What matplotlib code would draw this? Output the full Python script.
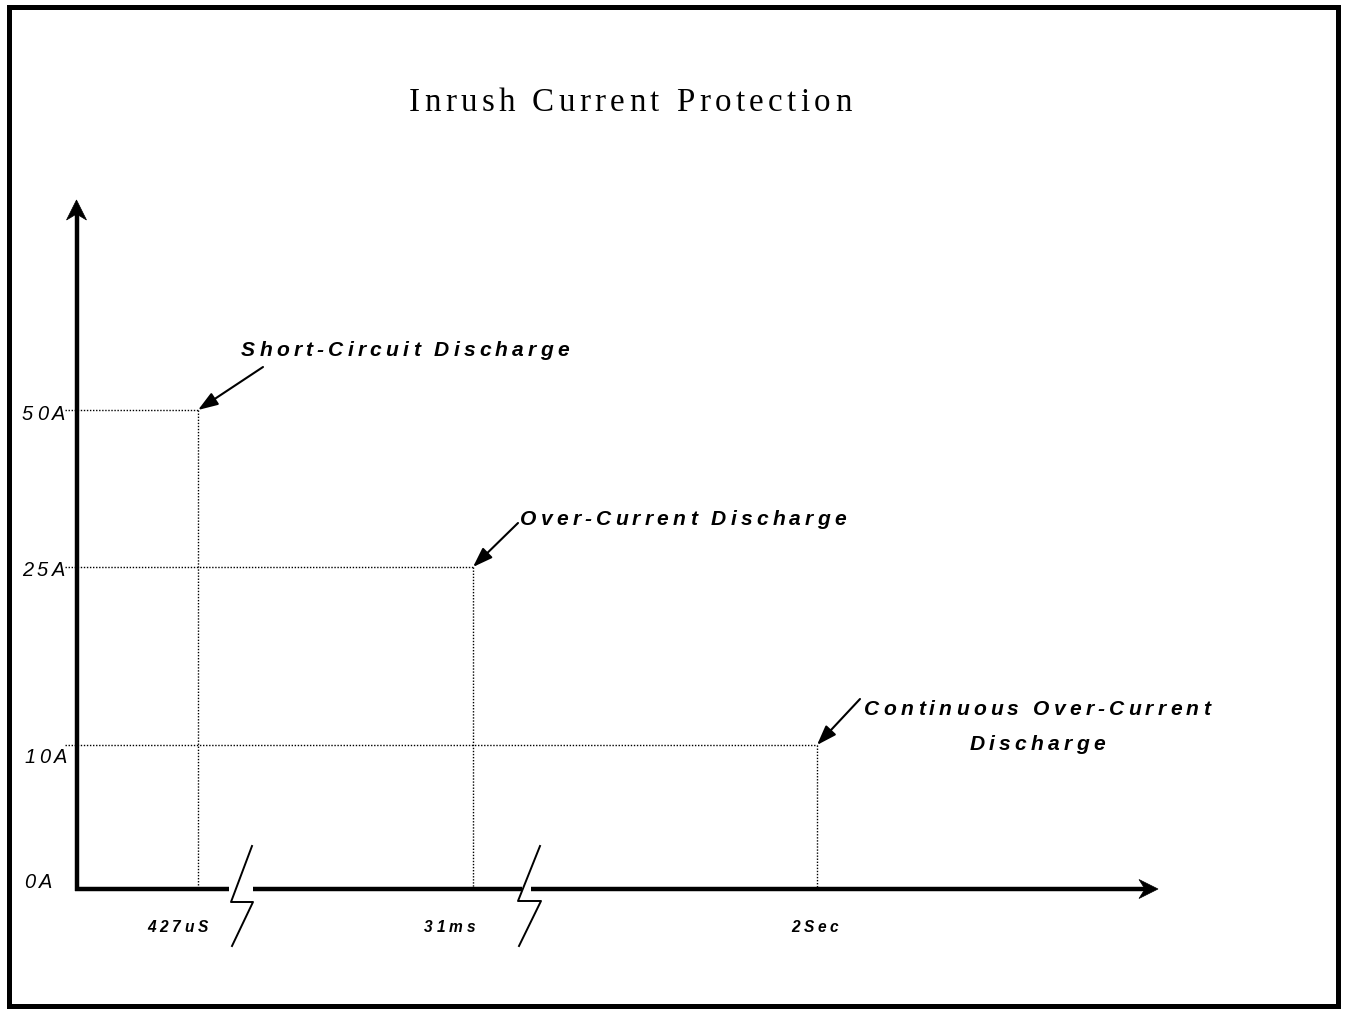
"""Inrush current protection diagram: trip current vs. time with axis breaks."""

import matplotlib

matplotlib.use("Agg")
import matplotlib.pyplot as plt
from matplotlib.font_manager import FontProperties, findfont
from matplotlib.ft2font import FT2Font
from matplotlib.patches import Polygon, Rectangle

DPI = 100
W, H = 1347, 1017

# chart values
current_levels = [0, 10, 25, 50]
current_labels = ["0A", "10A", "25A", "50A"]
event_times = ["427uS", "31ms", "2Sec"]
event_currents = [50, 25, 10]
event_names = ["Short-Circuit Discharge", "Over-Current Discharge", "Continuous Over-Current\nDischarge"]

# schematic layout (canvas pixels, origin top-left)
ORIGIN = (76.5, 889)
LEVEL_Y = {0: 889, 10: 745, 25: 567, 50: 410}
TIME_X = [198, 473, 817]
X_TIP, Y_TIP = 1158, 200
BREAKS = [(229, 253, 252, 231, 846, 902, 946), (522, 531, 540, 518, 846, 901, 946)]
LABEL_LEFT = {0: 24, 10: 24, 25: 22, 50: 22}
LABEL_BASE = {0: 888, 10: 763, 25: 576, 50: 420}
TIME_LABEL_LEFT = [147, 424, 791]
NAME_POS = [(405, 356), (683, 525), (1037, 715)]
ARROW_FROM = [(263, 367), (518, 523), (860, 699)]

SANS = ["Liberation Sans", "DejaVu Sans"]
SERIF = ["Liberation Serif", "DejaVu Serif"]


def tracked_text(ax, x, y, s, size_px, track, family, style="normal", weight="normal",
                 ha="left", line_gap=35):
    """Draw letter-spaced text; x is left edge (or centre), y is baseline, in pixels."""
    prop = FontProperties(family=family, style=style, weight=weight)
    font = FT2Font(findfont(prop))
    font.set_size(size_px, 72)
    for i, line in enumerate(s.split("\n")):
        adv = [font.load_char(ord(c)).linearHoriAdvance / 65536 for c in line]
        total = sum(adv) + track * (len(line) - 1)
        cx = x - total / 2 if ha == "center" else x
        for c, a in zip(line, adv):
            ax.text(cx, y + i * line_gap, c, fontproperties=prop, fontsize=size_px * 72 / DPI,
                    ha="left", va="baseline", color="black")
            cx += a + track


fig = plt.figure(figsize=(W / DPI, H / DPI), dpi=DPI)
ax = fig.add_axes([0, 0, 1, 1])
ax.set_xlim(0, W)
ax.set_ylim(H, 0)
ax.axis("off")

# frame
ax.add_patch(Rectangle((8.5, 7), 1329, 998.5, fill=False, lw=3.6, ec="black"))

tracked_text(ax, 630, 111, "Inrush Current Protection", 33, 4.4, SERIF, ha="center")

# y axis with arrow head
ox, oy = ORIGIN
ax.plot([ox, ox], [oy + 2, Y_TIP + 14], color="black", lw=3.2, solid_capstyle="butt")
ax.add_patch(Polygon([(ox, Y_TIP), (ox - 10, Y_TIP + 20), (ox, Y_TIP + 14), (ox + 10, Y_TIP + 20)],
                     closed=True, fc="black", ec="black", lw=0.5))

# x axis, broken twice
xs = [ox - 2] + [v for b in BREAKS for v in b[:2]] + [X_TIP - 13]
for x0, x1 in zip(xs[::2], xs[1::2]):
    ax.plot([x0, x1], [oy, oy], color="black", lw=3.2, solid_capstyle="butt")
ax.add_patch(Polygon([(X_TIP, oy), (X_TIP - 19, oy - 9.5), (X_TIP - 13, oy), (X_TIP - 19, oy + 9.5)],
                     closed=True, fc="black", ec="black", lw=0.5))
for _, _, xt, xb, yt, ym, yb in BREAKS:
    ax.plot([xt, xb, xt + 1, xb + 1], [yt, ym, ym, yb], color="black", lw=1.4)

# current level labels
for lvl, lab in zip(current_levels, current_labels):
    tracked_text(ax, LABEL_LEFT[lvl], LABEL_BASE[lvl], lab, 20, 3.8, SANS, style="italic")

dots = dict(color="black", lw=1.0, linestyle=(0, (1, 1.2)))
for i, (t, cur, name) in enumerate(zip(event_times, event_currents, event_names)):
    x, y = TIME_X[i], LEVEL_Y[cur]
    ax.plot([65, x], [y, y], **dots)
    ax.plot([x, x], [y, oy], **dots)
    tracked_text(ax, TIME_LABEL_LEFT[i], 932, t, 15.5, 3.8, SANS, style="italic", weight="bold")
    nx, ny = NAME_POS[i]
    tracked_text(ax, nx, ny, name, 21, 4.2, SANS, style="italic", weight="bold", ha="center")
    ax.annotate("", xy=(x, y), xytext=ARROW_FROM[i],
                arrowprops=dict(arrowstyle="-|>,head_length=1.0,head_width=0.35",
                                mutation_scale=12, color="black", lw=1.5,
                                shrinkA=0, shrinkB=0))

fig.savefig("out.png", dpi=DPI, facecolor="white")
